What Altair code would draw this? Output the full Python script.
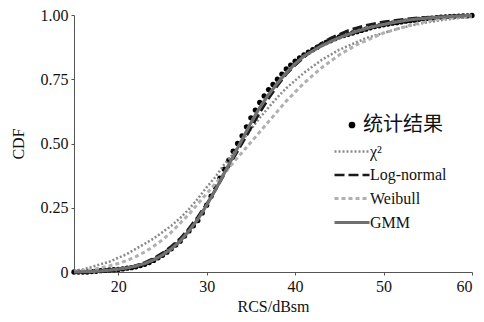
import altair as alt
import pandas as pd

x_vals = list(range(15, 61))
stat_x = [15 + 0.5 * i for i in range(91)]

stat_cdf = [0.0, 0.0, 0.0, 0.0, 0.002, 0.003, 0.005, 0.006, 0.008, 0.009,
            0.01, 0.012, 0.015, 0.017, 0.02, 0.025, 0.03, 0.037, 0.045, 0.055,
            0.065, 0.077, 0.09, 0.105, 0.12, 0.14, 0.16, 0.18, 0.20, 0.23,
            0.26, 0.295, 0.33, 0.365, 0.40, 0.435, 0.47, 0.50, 0.53, 0.565,
            0.60, 0.63, 0.66, 0.685, 0.71, 0.73, 0.75, 0.77, 0.79, 0.805,
            0.82, 0.833, 0.845, 0.855, 0.865, 0.875, 0.885, 0.893, 0.90, 0.908,
            0.915, 0.92, 0.925, 0.93, 0.935, 0.94, 0.945, 0.95, 0.955, 0.958,
            0.962, 0.965, 0.968, 0.97, 0.973, 0.976, 0.978, 0.98, 0.983, 0.985,
            0.987, 0.988, 0.99, 0.992, 0.993, 0.994, 0.995, 0.996, 0.997, 0.997,
            0.998]

chi2_cdf = [0.005, 0.01, 0.02, 0.03, 0.04, 0.055, 0.07, 0.09, 0.11, 0.13,
            0.155, 0.18, 0.21, 0.245, 0.285, 0.33, 0.37, 0.42, 0.46, 0.51,
            0.555, 0.60, 0.64, 0.68, 0.715, 0.745, 0.775, 0.80, 0.825, 0.845,
            0.865, 0.88, 0.895, 0.91, 0.92, 0.93, 0.94, 0.95, 0.958, 0.965,
            0.972, 0.977, 0.982, 0.986, 0.99, 0.993]

lognormal_cdf = [0.0, 0.0, 0.001, 0.003, 0.006, 0.01, 0.016, 0.025, 0.037, 0.053,
                 0.074, 0.10, 0.13, 0.17, 0.215, 0.265, 0.32, 0.38, 0.44, 0.50,
                 0.56, 0.62, 0.675, 0.725, 0.77, 0.805, 0.835, 0.865, 0.89, 0.91,
                 0.925, 0.94, 0.95, 0.96, 0.967, 0.973, 0.978, 0.982, 0.986, 0.989,
                 0.991, 0.993, 0.995, 0.996, 0.997, 0.998]

weibull_cdf = [0.003, 0.006, 0.01, 0.016, 0.024, 0.033, 0.045, 0.06, 0.078, 0.10,
               0.125, 0.155, 0.19, 0.225, 0.265, 0.305, 0.345, 0.385, 0.425, 0.465,
               0.505, 0.545, 0.585, 0.625, 0.665, 0.70, 0.735, 0.765, 0.795, 0.82,
               0.845, 0.865, 0.885, 0.90, 0.915, 0.93, 0.94, 0.95, 0.96, 0.968,
               0.975, 0.981, 0.986, 0.99, 0.993, 0.995]

gmm_cdf = [0.0, 0.001, 0.002, 0.004, 0.007, 0.011, 0.016, 0.023, 0.033, 0.047,
           0.066, 0.09, 0.12, 0.16, 0.205, 0.26, 0.32, 0.385, 0.45, 0.515,
           0.58, 0.64, 0.69, 0.735, 0.775, 0.81, 0.84, 0.86, 0.88, 0.897,
           0.912, 0.925, 0.937, 0.947, 0.956, 0.963, 0.97, 0.976, 0.981, 0.985,
           0.988, 0.991, 0.993, 0.995, 0.997, 0.998]

stat_name = "统计结果"
series_names = ["χ²", "Log-normal", "Weibull", "GMM"]
series_colors = ["#8a8a8a", "#1a1a1a", "#b0b0b0", "#707070"]
series_dash = [[2, 2], [10, 4], [4, 3], [1, 0]]
series_width = [2.5, 3.2, 2.2, 2.8]
x_ticks = [20, 30, 40, 50, 60]
y_ticks = [0, 0.25, 0.5, 0.75, 1.0]

stat_df = pd.DataFrame({"x": stat_x, "cdf": stat_cdf, "name": stat_name})
rows = []
for name, vals in zip(series_names, [chi2_cdf, lognormal_cdf, weibull_cdf, gmm_cdf]):
    for xv, cv in zip(x_vals, vals):
        rows.append({"x": xv, "cdf": cv, "series": name})
lines_df = pd.DataFrame(rows)

serif = "Liberation Serif"
cjk = "Noto Sans CJK SC"

axis_style = dict(grid=False, labelFont=serif, labelFontSize=16, labelColor="#111",
                  titleFont=serif, titleFontSize=16, titleColor="#111",
                  titleFontWeight="normal", domainColor="#555", tickColor="#555",
                  tickSize=3, labelPadding=3)

x_enc = alt.X("x:Q", scale=alt.Scale(domain=[15, 60], nice=False, zero=False),
              axis=alt.Axis(title="RCS/dBsm", values=x_ticks, titlePadding=4, **axis_style))
y_enc = alt.Y("cdf:Q", scale=alt.Scale(domain=[0, 1], nice=False),
              axis=alt.Axis(title="CDF", values=y_ticks, titlePadding=14,
                            labelExpr="datum.value == 0 ? '0' : format(datum.value, '.2f')",
                            **axis_style))

line_legend = alt.Legend(title=None, orient="none", legendX=266, legendY=125,
                         symbolType="M-1.75,0H1.75", symbolSize=400, symbolStrokeWidth=3,
                         symbolFillColor="transparent",
                         labelFont=serif, labelFontSize=16, labelColor="#111",
                         rowPadding=3.5, padding=0, labelOffset=6)

points = alt.Chart(stat_df).mark_point(filled=True, color="black", size=28, opacity=1).encode(
    x=x_enc, y=y_enc,
    shape=alt.Shape("name:N", scale=alt.Scale(domain=[stat_name], range=["circle"]),
                    legend=alt.Legend(title=None, orient="none", legendX=268, legendY=100,
                                      symbolFillColor="black", symbolStrokeColor="black",
                                      symbolSize=45, labelFont=cjk,
                                      labelFontSize=20, labelColor="#111", padding=0,
                                      labelOffset=1))
)

lines = alt.Chart(lines_df).mark_line().encode(
    x=x_enc, y=y_enc,
    color=alt.Color("series:N", scale=alt.Scale(domain=series_names, range=series_colors),
                    legend=line_legend, sort=series_names),
    strokeDash=alt.StrokeDash("series:N", scale=alt.Scale(domain=series_names, range=series_dash),
                              legend=line_legend, sort=series_names),
    strokeWidth=alt.StrokeWidth("series:N", scale=alt.Scale(domain=series_names, range=series_width),
                                legend=line_legend, sort=series_names),
)

chart = alt.layer(points, lines).properties(
    width=398, height=257,
    autosize=alt.AutoSizeParams(type="none"),
    padding={"left": 74, "top": 15, "right": 12, "bottom": 50},
    background="white",
).configure_view(stroke=None)

chart.save("out.html", embed_options={"renderer": "svg", "actions": False})
